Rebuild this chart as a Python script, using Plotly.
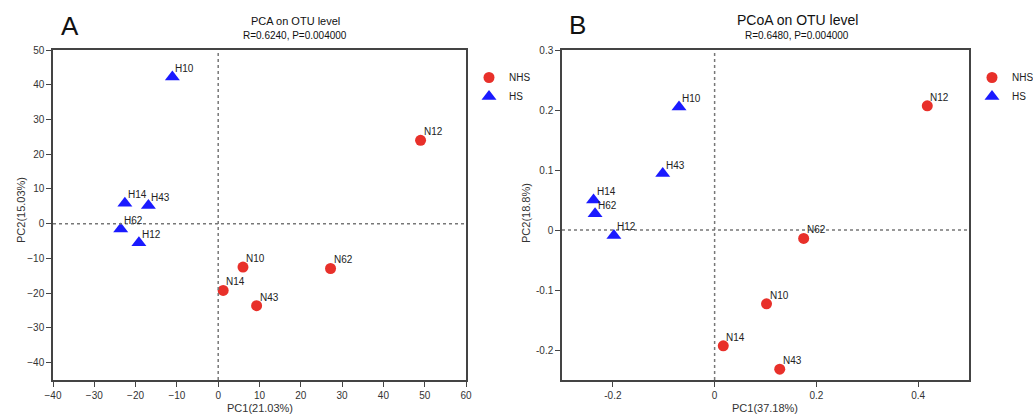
import plotly.graph_objects as go

# ---- Data ----
pca_nhs_names = ["N12", "N10", "N62", "N14", "N43"]
pca_nhs_x = [49.0, 6.0, 27.2, 1.2, 9.3]
pca_nhs_y = [24.0, -12.5, -12.9, -19.2, -23.6]
pca_hs_names = ["H10", "H14", "H43", "H62", "H12"]
pca_hs_x = [-11.1, -22.6, -16.9, -23.6, -19.2]
pca_hs_y = [42.2, 5.9, 5.2, -1.5, -5.5]

pcoa_nhs_names = ["N12", "N62", "N10", "N14", "N43"]
pcoa_nhs_x = [0.418, 0.175, 0.102, 0.017, 0.128]
pcoa_nhs_y = [0.207, -0.014, -0.123, -0.193, -0.232]
pcoa_hs_names = ["H10", "H43", "H14", "H62", "H12"]
pcoa_hs_x = [-0.070, -0.102, -0.238, -0.235, -0.198]
pcoa_hs_y = [0.205, 0.094, 0.050, 0.027, -0.009]

pca_xticks = [-40, -30, -20, -10, 0, 10, 20, 30, 40, 50, 60]
pca_yticks = [-40, -30, -20, -10, 0, 10, 20, 30, 40, 50]
pcoa_xticks = [-0.2, 0, 0.2, 0.4]
pcoa_xticktext = ["-0.2", "0", "0.2", "0.4"]
pcoa_yticks = [-0.2, -0.1, 0, 0.1, 0.2, 0.3]
pcoa_yticktext = ["-0.2", "-0.1", "0", "0.1", "0.2", "0.3"]

RED = "#e8302a"
BLUE = "#1a1aff"
FONT = "Liberation Sans, Arial, sans-serif"

fig = go.Figure()

def add_group(xs, ys, name, color, symbol, size, xa, ya, legend, show):
    fig.add_trace(go.Scatter(
        x=xs, y=ys, mode="markers", name=name,
        marker=dict(color=color, symbol=symbol, size=size, line=dict(width=0)),
        xaxis=xa, yaxis=ya, legend=legend, showlegend=show, hoverinfo="skip"))

add_group(pca_nhs_x, pca_nhs_y, "NHS", RED, "circle", 11, "x", "y", "legend", True)
add_group(pca_hs_x, pca_hs_y, "HS", BLUE, "triangle-up", 13, "x", "y", "legend", True)
add_group(pcoa_nhs_x, pcoa_nhs_y, "NHS", RED, "circle", 11, "x2", "y2", "legend2", True)
add_group(pcoa_hs_x, pcoa_hs_y, "HS", BLUE, "triangle-up", 13, "x2", "y2", "legend2", True)

annotations = []
def add_labels(names, xs, ys, xref, yref):
    for n, x, y in zip(names, xs, ys):
        annotations.append(dict(
            x=x, y=y, xref=xref, yref=yref, text=n, showarrow=False,
            xanchor="left", yanchor="bottom", xshift=1, yshift=1,
            font=dict(size=10, color="#222", family=FONT)))

add_labels(pca_nhs_names, pca_nhs_x, pca_nhs_y, "x", "y")
add_labels(pca_hs_names, pca_hs_x, pca_hs_y, "x", "y")
add_labels(pcoa_nhs_names, pcoa_nhs_x, pcoa_nhs_y, "x2", "y2")
add_labels(pcoa_hs_names, pcoa_hs_x, pcoa_hs_y, "x2", "y2")

def text(x, y, s, size, **kw):
    d = dict(x=x, y=y, xref="paper", yref="paper", text=s, showarrow=False,
             font=dict(size=size, color="#111", family=FONT),
             xanchor="center", yanchor="middle")
    d.update(kw)
    annotations.append(d)

W, H = 1033, 414
px = lambda v: v / W
py = lambda v: 1 - v / H

text(px(70), py(26), "A", 26)
text(px(577), py(25), "B", 26)
text(px(295), py(21), "PCA on OTU level", 11)
text(px(295), py(36), "R=0.6240, P=0.004000", 10)
text(px(797), py(20), "PCoA on OTU level", 14)
text(px(797), py(36), "R=0.6480, P=0.004000", 10)
text(px(260), py(408), "PC1(21.03%)", 11, font=dict(size=11, color="#333", family=FONT))
text(px(765), py(408), "PC1(37.18%)", 11, font=dict(size=11, color="#333", family=FONT))
text(px(21), py(210), "PC2(15.03%)", 11, textangle=-90, font=dict(size=11, color="#333", family=FONT))
text(px(526), py(213), "PC2(18.8%)", 11, textangle=-90, font=dict(size=11, color="#333", family=FONT))

axis_common = dict(showline=True, mirror=True, linecolor="#444", linewidth=1.5,
                   ticks="outside", ticklen=5, tickwidth=1.2, tickcolor="#444",
                   showgrid=False, zeroline=False, automargin=False,
                   tickfont=dict(size=10, color="#333", family=FONT))

ytop, ybot = py(50), py(380)
fig.update_layout(
    width=W, height=H, margin=dict(l=0, r=0, t=0, b=0, autoexpand=False),
    paper_bgcolor="white", plot_bgcolor="white",
    xaxis=dict(domain=[px(53), px(466)], range=[-40, 60], tickvals=pca_xticks, anchor="y", **axis_common),
    yaxis=dict(domain=[ybot, ytop], range=[-45, 50], tickvals=pca_yticks, anchor="x", **axis_common),
    xaxis2=dict(domain=[px(562), px(969)], range=[-0.3, 0.5], tickvals=pcoa_xticks, ticktext=pcoa_xticktext, anchor="y2", **axis_common),
    yaxis2=dict(domain=[ybot, ytop], range=[-0.25, 0.3], tickvals=pcoa_yticks, ticktext=pcoa_yticktext, anchor="x2", **axis_common),
    legend=dict(x=px(469), y=py(63), xanchor="left", yanchor="top", bgcolor="rgba(0,0,0,0)",
                font=dict(size=10, color="#222", family=FONT), itemwidth=30, tracegroupgap=0),
    legend2=dict(x=px(972), y=py(63), xanchor="left", yanchor="top", bgcolor="rgba(0,0,0,0)",
                 font=dict(size=10, color="#222", family=FONT), itemwidth=30, tracegroupgap=0),
    annotations=annotations,
    showlegend=True,
)

dot = dict(color="#777", width=1.5, dash="dot")
fig.add_shape(type="line", xref="x", yref="y domain", x0=0, x1=0, y0=0, y1=1, line=dot)
fig.add_shape(type="line", xref="x domain", yref="y", x0=0, x1=1, y0=0, y1=0, line=dot)
fig.add_shape(type="line", xref="x2", yref="y2 domain", x0=0, x1=0, y0=0, y1=1, line=dot)
fig.add_shape(type="line", xref="x2 domain", yref="y2", x0=0, x1=1, y0=0, y1=0, line=dot)

fig.write_html("out.html")
